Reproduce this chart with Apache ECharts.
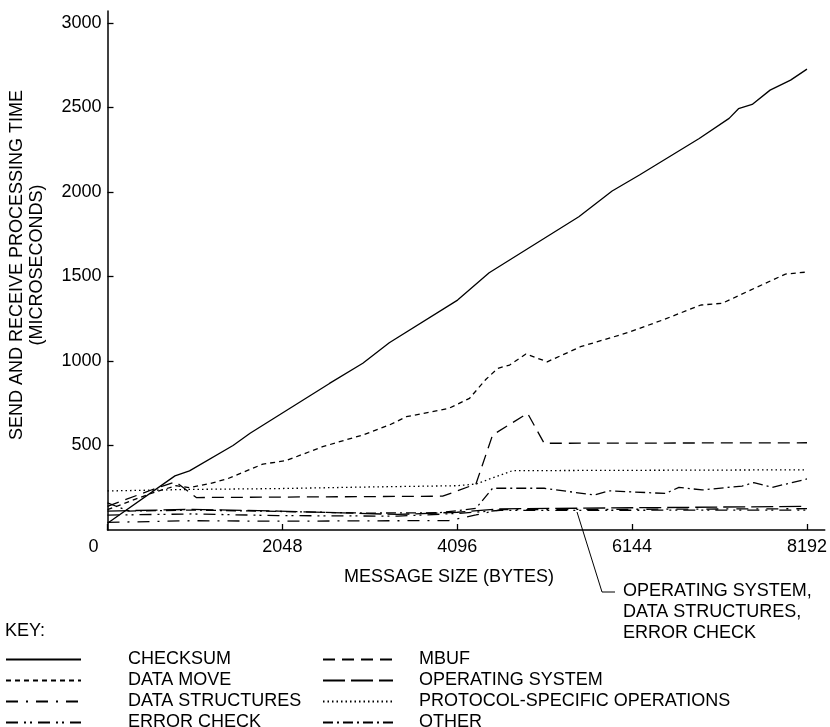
<!DOCTYPE html>
<html>
<head>
<meta charset="utf-8">
<script src="https://cdn.jsdelivr.net/npm/echarts@6/dist/echarts.min.js"></script>
<style>
  html, body { margin: 0; padding: 0; background: #fff; }
  #main { width: 830px; height: 727px; }
</style>
</head>
<body>
<div id="main"></div>
<script>
// tick positions (bytes / microseconds)
const xTicks = [0, 2048, 4096, 6144, 8192];
const yTicks = [500, 1000, 1500, 2000, 2500, 3000];

// [message size, time]
const checksumData = [[0, 40], [790, 320], [960, 350], [1470, 500], [1670, 572], [2600, 867], [2990, 986], [3300, 1108], [4100, 1360], [4470, 1522], [5520, 1853], [5910, 2005], [6230, 2100], [6930, 2316], [7280, 2435], [7390, 2492], [7550, 2517], [7760, 2602], [8000, 2661], [8192, 2726]];
const dataMoveData = [[0, 120], [500, 215], [800, 262], [960, 250], [1200, 275], [1400, 302], [1820, 390], [2090, 410], [2520, 493], [2990, 562], [3300, 621], [3500, 670], [4000, 720], [4240, 779], [4430, 890], [4570, 956], [4710, 976], [4900, 1041], [5150, 995], [5540, 1084], [6090, 1167], [6500, 1242], [6950, 1331], [7200, 1341], [7530, 1419], [7940, 1514], [8192, 1526]];
const dataStructData = [[0, 45], [1000, 55], [2000, 52], [4000, 56], [4315, 89], [4600, 120], [8192, 126]];
const errorCheckData = [[0, 88], [1000, 95], [2000, 85], [3400, 82], [4096, 98], [4600, 116], [8192, 118]];
const mbufData = [[0, 140], [520, 238], [800, 285], [1040, 192], [3925, 200], [4315, 272], [4510, 562], [4920, 690], [5114, 513], [8192, 516]];
const osData = [[0, 112], [1000, 122], [2000, 112], [3400, 92], [4096, 105], [4600, 125], [8192, 140]];
const protocolData = [[0, 231], [960, 240], [2000, 245], [3000, 254], [4096, 262], [4315, 272], [4743, 351], [8192, 356]];
const otherData = [[0, 160], [250, 112], [1000, 118], [2000, 110], [3000, 100], [3887, 102], [4315, 128], [4510, 247], [5114, 247], [5698, 207], [5874, 232], [6536, 216], [6692, 252], [6964, 237], [7432, 260], [7569, 280], [7783, 252], [8192, 302]];

const FONT = 'Liberation Sans, Arial, sans-serif';

function mkSeries(name, data, dash) {
    return {
        name: name,
        type: 'line',
        data: data,
        symbol: 'none',
        animation: false,
        color: '#000',
        itemStyle: { color: '#000' },
        lineStyle: { color: '#000', width: 1.3, type: dash }
    };
}

function mkLegend(left, itemWidth, gap, names) {
    return {
        left: left, top: 650.5, orient: 'vertical',
        padding: 0, height: 100,
        itemWidth: itemWidth, itemHeight: 14, itemGap: 3,
        itemStyle: { opacity: 0 },
        data: names,
        formatter: function(n) { return '{a|' + n + '}'; },
        textStyle: { rich: { a: { padding: [0, 0, 0, gap], fontSize: 18, color: '#000', fontFamily: FONT } } }
    };
}

let myChart = echarts.init(document.getElementById('main'));

let option = {
    backgroundColor: '#fff',
    textStyle: { fontFamily: FONT },
    grid: { left: 107.5, right: 4, top: 11, bottom: 197 },
    xAxis: {
        type: 'value',
        min: 0,
        max: 8400,
        axisLine: { lineStyle: { color: '#000', width: 1.5 } },
        axisTick: { inside: true, length: 6, customValues: xTicks, lineStyle: { color: '#000', width: 1.3 } },
        axisLabel: {
            customValues: xTicks,
            margin: 8,
            color: '#000',
            fontSize: 18,
            fontFamily: FONT,
            formatter: function(v) {
                return v === 0 ? '{z|0}' : String(v);
            },
            rich: { z: { padding: [0, 28, 0, 0], fontSize: 18, color: '#000', fontFamily: FONT } }
        },
        splitLine: { show: false }
    },
    yAxis: {
        type: 'value',
        min: 0,
        max: 3070,
        axisLine: { show: true, lineStyle: { color: '#000', width: 1.5 } },
        axisTick: { show: true, inside: true, length: 6, customValues: yTicks, lineStyle: { color: '#000', width: 1.3 } },
        axisLabel: {
            customValues: yTicks, margin: 6, color: '#000', fontSize: 18, fontFamily: FONT,
            formatter: function(v) { return String(v); }
        },
        splitLine: { show: false }
    },
    legend: [
        mkLegend(5, 75, 42, ['CHECKSUM', 'DATA MOVE', 'DATA STRUCTURES', 'ERROR CHECK']),
        mkLegend(322, 70, 21, ['MBUF', 'OPERATING SYSTEM', 'PROTOCOL-SPECIFIC OPERATIONS', 'OTHER'])
    ],
    graphic: [
        {
            type: 'text', x: 27, y: 265, rotation: Math.PI / 2,
            style: {
                text: 'SEND AND RECEIVE PROCESSING TIME\n(MICROSECONDS)',
                font: '18px ' + FONT, fill: '#000', align: 'center', verticalAlign: 'middle', lineHeight: 20
            }
        },
        {
            type: 'text', x: 449, y: 577,
            style: { text: 'MESSAGE SIZE (BYTES)', font: '18px ' + FONT, fill: '#000', align: 'center', verticalAlign: 'middle' }
        },
        {
            type: 'text', x: 5, y: 631,
            style: { text: 'KEY:', font: '18px ' + FONT, fill: '#000', align: 'left', verticalAlign: 'middle' }
        },
        {
            type: 'polyline',
            shape: { points: [[577, 512], [602, 592], [615, 592]] },
            style: { stroke: '#000', lineWidth: 1, fill: null }
        },
        {
            type: 'text', x: 623, y: 612.5,
            style: {
                text: 'OPERATING SYSTEM,\nDATA STRUCTURES,\nERROR CHECK',
                font: '18px ' + FONT, fill: '#000', align: 'left', verticalAlign: 'middle', lineHeight: 21
            }
        }
    ],
    series: [
        mkSeries('CHECKSUM', checksumData, 'solid'),
        mkSeries('DATA MOVE', dataMoveData, [5, 4]),
        mkSeries('DATA STRUCTURES', dataStructData, [12, 8, 2, 8]),
        mkSeries('ERROR CHECK', errorCheckData, [12, 6, 2, 4, 2, 6]),
        mkSeries('MBUF', mbufData, [12, 7]),
        mkSeries('OPERATING SYSTEM', osData, [22, 6]),
        mkSeries('PROTOCOL-SPECIFIC OPERATIONS', protocolData, [1.5, 3]),
        mkSeries('OTHER', otherData, [10, 4, 2, 4])
    ]
};

myChart.setOption(option);
</script>
</body>
</html>
